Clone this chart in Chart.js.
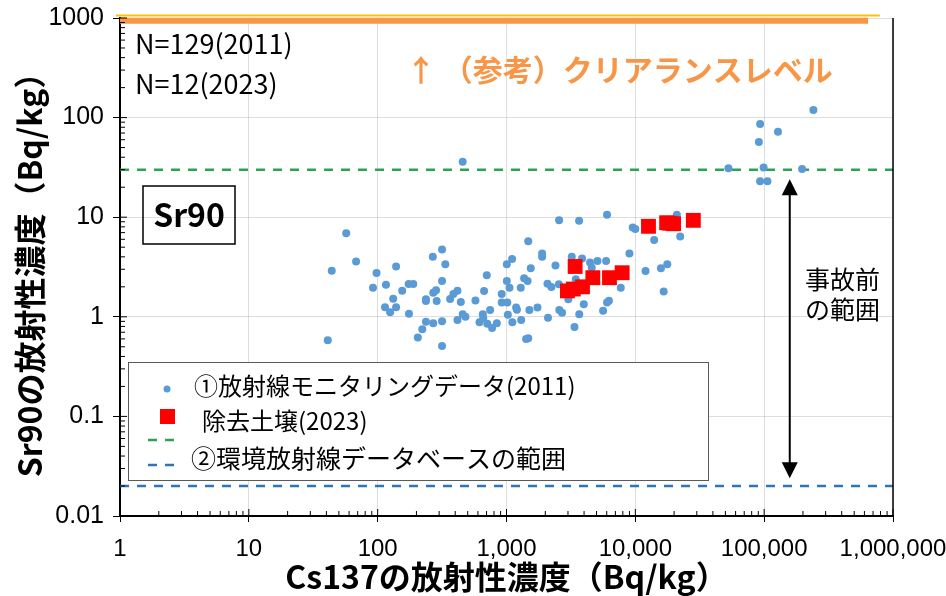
<!DOCTYPE html>
<html lang="ja">
<head>
<meta charset="utf-8">
<title>Sr90 / Cs137</title>
<script src="https://cdn.jsdelivr.net/npm/chart.js@4.4.1/dist/chart.umd.min.js"></script>
<style>
  html, body { margin: 0; padding: 0; background: #fff; }
  #wrap { width: 946px; height: 596px; }
</style>
</head>
<body>
<div id="wrap"><canvas id="grafiek" width="946" height="596"></canvas></div>
<script>
// Waarden (Bq/kg)
// ① 放射線モニタリングデータ(2011): Cs137 en Sr90
const monitoringCs = [
  457, 57, 44, 68, 41, 98, 92, 116, 139, 155, 132, 114, 125, 139, 174, 189, 175, 205, 222, 237,
  270, 316, 316, 237, 237, 270, 284, 287, 268, 316, 335, 316, 365, 387, 416, 442, 416, 457, 480, 574,
  617, 655, 660, 670, 703, 710, 746, 773, 841, 918, 918, 1006, 1006, 1015, 1025, 1105, 1055, 1110, 1188, 1205,
  1290, 1300, 1370, 1457, 1475, 1543, 1505, 1420, 1475, 1740, 1890, 1890, 241000, 93000, 128000, 91000, 52800, 99000, 197000, 93000,
  106000, 2560, 3660, 6030, 21000, 9550, 10000, 14000, 22300, 9000, 12000, 15800, 17700, 16600, 2400, 2550, 2080, 2230, 3210, 3860,
  4450, 5080, 5930, 4590, 3450, 7710, 3980, 3670, 3020, 2570, 2700, 5620, 6030, 6240, 3370, 2100
];
const monitoringSr = [
  36, 6.9, 2.9, 3.6, 0.58, 2.75, 1.96, 2.1, 3.2, 1.83, 1.52, 1.25, 1.11, 1.25, 2.14, 2.14, 1.07, 0.62, 0.75, 0.89,
  0.86, 0.9, 0.51, 1.5, 1.44, 1.74, 1.85, 1.44, 4.0, 4.75, 3.37, 2.29, 1.51, 1.69, 1.83, 1.41, 0.93, 1.06, 1.0, 1.46,
  0.88, 1.06, 0.97, 1.82, 2.61, 0.85, 1.17, 0.77, 0.86, 1.69, 1.39, 3.37, 2.29, 1.39, 1.05, 3.8, 1.96, 0.88, 1.24, 1.18,
  1.96, 0.93, 2.44, 2.29, 5.75, 3.07, 1.17, 0.6, 0.61, 1.24, 4.33, 4.0, 119, 86, 72, 57, 31, 31.6, 30.5, 23,
  23, 9.3, 9.2, 10.6, 10.6, 7.9, 7.6, 5.9, 6.4, 4.33, 2.88, 3.07, 3.37, 1.79, 3.27, 2.12, 2.15, 1.99, 4.0, 3.85,
  3.5, 3.63, 3.63, 3.1, 2.38, 1.96, 1.34, 1.06, 1.5, 1.17, 1.1, 1.15, 1.39, 1.45, 0.79, 0.98
];
// 除去土壌(2023)
const soilCs = [12650, 17500, 19800, 28200, 18500, 3410, 2970, 3300, 3890, 4680, 6300, 7900];
const soilSr = [8.1, 8.8, 8.6, 9.3, 8.7, 3.2, 1.82, 1.9, 2.0, 2.47, 2.47, 2.77];

// ② 環境放射線データベースの範囲 en (参考)クリアランスレベル
const dbUpper = 30;
const dbLower = 0.02;
const clearanceLevel = 940;
const clearanceEnd = 640000;
const clearanceEdge = 1060;
const clearanceEdgeEnd = 790000;

// 事故前の範囲 (pijl)
const arrowX = 158000;
const arrowTop = 24;
const arrowBottom = 0.024;

// Ticklabels
const xTicks = [1, 10, 100, 1000, 10000, 100000, 1000000];
const yTicks = [0.01, 0.1, 1, 10, 100, 1000];

const jp = "'Noto Sans CJK JP', 'Noto Sans', sans-serif";

function pairs(xs, ys) {
  return xs.map((x, i) => ({ x: x, y: ys[i] }));
}

function hLine(y, x1, x2) {
  return [{ x: x1, y: y }, { x: x2, y: y }];
}

// Kleine ticks, rand rechts, tekstvakken en legenda
const decoratie = {
  id: 'decoratie',
  afterDraw(chart) {
    const ctx = chart.ctx;
    const a = chart.chartArea;
    const sx = chart.scales.x;
    const sy = chart.scales.y;
    ctx.save();

    // rechter rand
    ctx.strokeStyle = '#000';
    ctx.lineWidth = 1.5;
    ctx.beginPath();
    ctx.moveTo(a.right, a.top);
    ctx.lineTo(a.right, a.bottom);
    ctx.stroke();

    // kleine ticks op log-assen
    ctx.lineWidth = 1;
    ctx.beginPath();
    for (let k = 0; k < 6; k++) {
      for (let m = 2; m <= 9; m++) {
        const px = sx.getPixelForValue(m * Math.pow(10, k));
        ctx.moveTo(px, a.bottom);
        ctx.lineTo(px, a.bottom - 5);
      }
    }
    for (let k = -2; k < 3; k++) {
      for (let m = 2; m <= 9; m++) {
        const py = sy.getPixelForValue(m * Math.pow(10, k));
        ctx.moveTo(a.left, py);
        ctx.lineTo(a.left + 5, py);
      }
    }
    xTicks.forEach(v => {
      const px = sx.getPixelForValue(v);
      ctx.moveTo(px, a.bottom);
      ctx.lineTo(px, a.bottom - 7);
    });
    yTicks.forEach(v => {
      const py = sy.getPixelForValue(v);
      ctx.moveTo(a.left, py);
      ctx.lineTo(a.left + 7, py);
    });
    ctx.stroke();

    // N=...
    ctx.fillStyle = '#000';
    ctx.textBaseline = 'middle';
    ctx.textAlign = 'left';
    ctx.font = '27px ' + jp;
    ctx.fillText('N=129(2011)', a.left + 15, 44);
    ctx.fillText('N=12(2023)', a.left + 15, 84);

    // clearance tekst
    ctx.fillStyle = '#F79646';
    ctx.font = 'bold 30px ' + jp;
    ctx.fillText('↑ （参考）クリアランスレベル', 406, 70);

    // Sr90 kader
    ctx.strokeStyle = '#000';
    ctx.lineWidth = 1.5;
    ctx.strokeRect(143, 186, 92, 58);
    ctx.fillStyle = '#000';
    ctx.textAlign = 'center';
    ctx.font = 'bold 32px ' + jp;
    ctx.fillText('Sr90', 189, 215);

    // pijl 事故前の範囲
    const ax = sx.getPixelForValue(arrowX);
    const ay1 = sy.getPixelForValue(arrowTop);
    const ay2 = sy.getPixelForValue(arrowBottom);
    ctx.lineWidth = 2;
    ctx.beginPath();
    ctx.moveTo(ax, ay1 + 14);
    ctx.lineTo(ax, ay2 - 14);
    ctx.stroke();
    ctx.beginPath();
    ctx.moveTo(ax, ay1);
    ctx.lineTo(ax - 8, ay1 + 16);
    ctx.lineTo(ax + 8, ay1 + 16);
    ctx.closePath();
    ctx.moveTo(ax, ay2);
    ctx.lineTo(ax - 8, ay2 - 16);
    ctx.lineTo(ax + 8, ay2 - 16);
    ctx.closePath();
    ctx.fill();

    ctx.textAlign = 'left';
    ctx.font = '25px ' + jp;
    ctx.fillText('事故前', 805, 279);
    ctx.fillText('の範囲', 805, 309);

    // legenda
    ctx.fillStyle = '#fff';
    ctx.fillRect(128, 362, 580, 118);
    ctx.strokeStyle = '#595959';
    ctx.lineWidth = 1;
    ctx.strokeRect(128.5, 362.5, 580, 118);

    ctx.fillStyle = '#5B9BD5';
    ctx.beginPath();
    ctx.arc(167, 389, 3.5, 0, Math.PI * 2);
    ctx.fill();
    ctx.fillStyle = '#FF0000';
    ctx.fillRect(160, 409, 15, 15);

    ctx.lineWidth = 2.5;
    ctx.setLineDash([9, 8]);
    ctx.strokeStyle = '#2EA057';
    ctx.beginPath();
    ctx.moveTo(148, 440);
    ctx.lineTo(178, 440);
    ctx.stroke();
    ctx.strokeStyle = '#2E75B6';
    ctx.beginPath();
    ctx.moveTo(148, 465);
    ctx.lineTo(178, 465);
    ctx.stroke();
    ctx.setLineDash([]);

    ctx.fillStyle = '#000';
    ctx.font = '24px ' + jp;
    ctx.fillText('①放射線モニタリングデータ(2011)', 194, 386);
    ctx.fillText('除去土壌(2023)', 202, 421);
    ctx.font = '25px ' + jp;
    ctx.fillText('②環境放射線データベースの範囲', 191, 458);

    ctx.restore();
  }
};

const ctx = document.getElementById('grafiek').getContext('2d');
new Chart(ctx, {
  type: 'scatter',
  data: {
    datasets: [
      {
        label: '除去土壌(2023)',
        data: pairs(soilCs, soilSr),
        pointStyle: 'rect',
        pointRadius: 10.5,
        backgroundColor: '#FF0000',
        borderWidth: 0,
        order: 0
      },
      {
        label: '①放射線モニタリングデータ(2011)',
        data: pairs(monitoringCs, monitoringSr),
        pointRadius: 4,
        backgroundColor: '#5B9BD5',
        borderWidth: 0,
        order: 1
      },
      {
        label: 'upper',
        type: 'line',
        data: hLine(dbUpper, 1, 1000000),
        borderColor: '#2EA057',
        borderWidth: 2.5,
        borderDash: [9, 8],
        pointRadius: 0,
        order: 2
      },
      {
        label: 'lower',
        type: 'line',
        data: hLine(dbLower, 1, 1000000),
        borderColor: '#2E75B6',
        borderWidth: 2.5,
        borderDash: [9, 8],
        pointRadius: 0,
        order: 2
      },
      {
        label: 'clearance',
        type: 'line',
        data: hLine(clearanceLevel, 1, clearanceEnd),
        borderColor: '#F79646',
        borderWidth: 6,
        pointRadius: 0,
        clip: false,
        order: 3
      },
      {
        label: 'clearance-rand',
        type: 'line',
        data: hLine(clearanceEdge, 0.93, clearanceEdgeEnd),
        borderColor: '#FFC000',
        borderWidth: 2,
        pointRadius: 0,
        clip: false,
        order: 4
      }
    ]
  },
  options: {
    responsive: false,
    animation: false,
    devicePixelRatio: 1,
    layout: { padding: { top: 18, right: 53, left: 0, bottom: 0 } },
    plugins: {
      legend: { display: false },
      tooltip: { enabled: false }
    },
    scales: {
      x: {
        type: 'logarithmic',
        min: 1,
        max: 1000000,
        afterBuildTicks: s => { s.ticks = xTicks.map(v => ({ value: v })); },
        afterFit: s => { s.height = 80; s.paddingLeft = 0; s.paddingRight = 0; },
        ticks: {
          callback: v => Number(v).toLocaleString('en-US'),
          font: { family: "'Liberation Sans Narrow', 'Liberation Sans', sans-serif", size: 24 },
          color: '#000',
          padding: 13,
          maxRotation: 0,
          autoSkip: false
        },
        grid: { color: 'rgba(0,0,0,0.13)', tickColor: '#000', tickLength: 6, lineWidth: 1 },
        border: { color: '#000', width: 2 },
        title: {
          display: true,
          text: 'Cs137の放射性濃度（Bq/kg）',
          font: { family: jp, size: 32, weight: 'bold' },
          color: '#000',
          padding: 0
        }
      },
      y: {
        type: 'logarithmic',
        min: 0.01,
        max: 1000,
        afterBuildTicks: s => { s.ticks = yTicks.map(v => ({ value: v })); },
        afterFit: s => { s.width = 120; s.paddingTop = 0; s.paddingBottom = 0; },
        ticks: {
          callback: v => String(v),
          font: { family: "'Liberation Sans', Arial, sans-serif", size: 25 },
          color: '#000',
          padding: 9,
          autoSkip: false
        },
        grid: { color: 'rgba(0,0,0,0.13)', tickColor: '#000', tickLength: 7, lineWidth: 1 },
        border: { color: '#000', width: 2 },
        title: {
          display: true,
          text: 'Sr90の放射性濃度（Bq/kg）',
          font: { family: jp, size: 32, weight: 'bold' },
          color: '#000',
          padding: { top: 11, bottom: 0 }
        }
      }
    }
  },
  plugins: [decoratie]
});
</script>
</body>
</html>
